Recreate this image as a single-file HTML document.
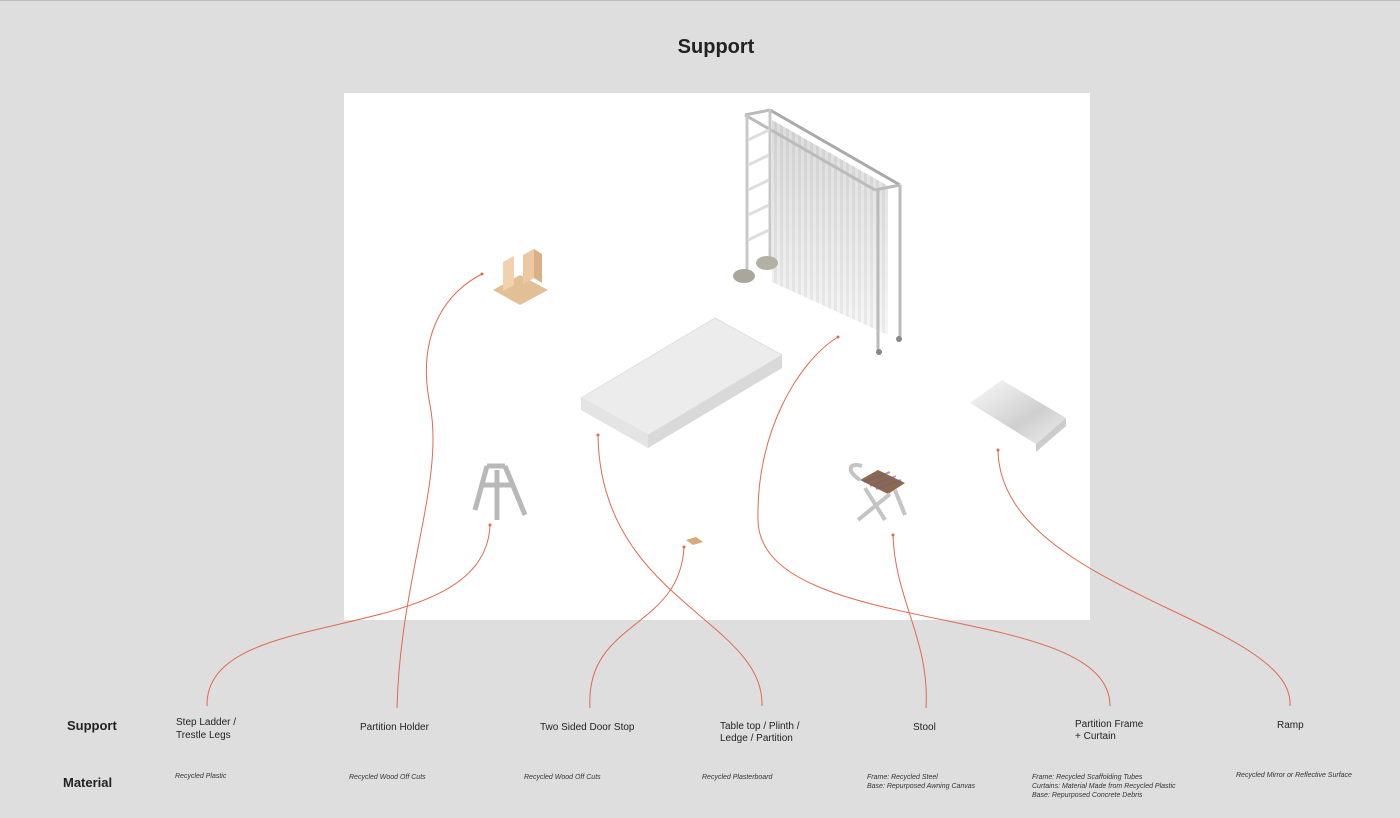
<!DOCTYPE html>
<html><head><meta charset="utf-8"><style>
html,body{margin:0;padding:0;background:#dedede;width:1400px;height:818px;overflow:hidden;font-family:"Liberation Sans",sans-serif;color:#222}
.t{position:absolute;font-size:10px;line-height:13px}
.m{position:absolute;font-size:7px;font-style:italic;line-height:10.5px;color:#333}
.h{position:absolute;font-weight:bold;font-size:13px}
</style></head><body>
<div style="position:absolute;left:0;top:0;width:1400px;height:1px;background:#bbb"></div>
<div style="position:absolute;left:0;top:36px;width:1432px;text-align:center;font-weight:bold;font-size:20px">Support</div>
<div style="position:absolute;left:344px;top:93px;width:746px;height:527px;background:#fff"></div>
<svg width="1400" height="818" style="position:absolute;left:0;top:0">
<defs>
<linearGradient id="cg" x1="0" y1="0" x2="0" y2="1"><stop offset="0" stop-color="#c8c8c8"/><stop offset="1" stop-color="#ffffff"/></linearGradient>
<pattern id="st" width="6" height="10" patternUnits="userSpaceOnUse"><rect width="3" height="10" fill="#d6d6d6"/><rect x="3" width="3" height="10" fill="#eeeeee"/></pattern>
<linearGradient id="rg" x1="0" y1="0" x2="1" y2="1"><stop offset="0" stop-color="#fafafa"/><stop offset="0.6" stop-color="#cfcfcf"/><stop offset="1" stop-color="#eee"/></linearGradient>
</defs>
<!-- curtain -->
<polygon points="772,120 888,186 888,335 772,282" fill="url(#st)"/>
<polygon points="772,120 888,186 888,335 772,282" fill="url(#cg)" opacity="0.5"/>
<line x1="745" y1="115" x2="875" y2="190" stroke="#bbb" stroke-width="3"/>
<line x1="770" y1="110" x2="900" y2="185" stroke="#aaa" stroke-width="3"/>
<line x1="745" y1="115" x2="770" y2="110" stroke="#bbb" stroke-width="3"/>
<line x1="875" y1="190" x2="900" y2="185" stroke="#bbb" stroke-width="3"/>
<line x1="747" y1="115" x2="747" y2="275" stroke="#c8c8c8" stroke-width="3"/>
<line x1="770" y1="110" x2="770" y2="262" stroke="#c8c8c8" stroke-width="3"/>
<line x1="878" y1="190" x2="878" y2="350" stroke="#bbb" stroke-width="3"/>
<line x1="900" y1="185" x2="900" y2="337" stroke="#bbb" stroke-width="3"/>
<g stroke="#ddd" stroke-width="3"><line x1="748" y1="140" x2="769" y2="130"/><line x1="748" y1="165" x2="769" y2="155"/><line x1="748" y1="190" x2="769" y2="180"/><line x1="748" y1="215" x2="769" y2="205"/><line x1="748" y1="240" x2="769" y2="230"/></g>
<ellipse cx="744" cy="276" rx="11" ry="7" fill="#aaa69a"/><ellipse cx="767" cy="263" rx="11" ry="7" fill="#b3b0a5"/>
<circle cx="879" cy="352" r="3" fill="#888"/><circle cx="899" cy="339" r="3" fill="#888"/>
<!-- table slab -->
<polygon points="581,398 715,318 782,355 648,435" fill="#ececec" stroke="#e0e0e0"/>
<polygon points="581,398 648,435 648,448 581,410" fill="#e4e4e4"/>
<polygon points="648,435 782,355 782,368 648,448" fill="#d9d9d9"/>
<!-- ramp -->
<polygon points="970,403 1002,380 1066,418 1036,444" fill="url(#rg)"/>
<polygon points="1036,444 1066,418 1066,426 1036,452" fill="#ccc"/>
<!-- partition holder -->
<polygon points="493,290 520,275 548,290 520,305" fill="#e3bf95"/>
<polygon points="503,262 514,256 514,285 503,291" fill="#f0d2ae"/>
<polygon points="523,255 534,249 534,278 523,284" fill="#ecc9a2"/>
<polygon points="534,249 542,254 542,283 534,278" fill="#d9b186"/>
<!-- ladder -->
<g stroke="#b8b8b8" stroke-width="5" fill="none"><line x1="475" y1="510" x2="487" y2="466"/><line x1="505" y1="466" x2="525" y2="515"/><line x1="487" y1="466" x2="505" y2="466"/><line x1="482" y1="485" x2="512" y2="485"/><line x1="497" y1="470" x2="497" y2="520"/></g>
<!-- door stop -->
<polygon points="686,540 696,537 703,542 693,545" fill="#d9a97a"/>
<!-- stool -->
<polygon points="860,480 878,470 905,483 888,494" fill="#8a6a4a"/>
<g stroke="#7a5c8a" stroke-width="2" opacity="0.6"><line x1="864" y1="482" x2="890" y2="472"/><line x1="870" y1="486" x2="896" y2="476"/><line x1="876" y1="489" x2="901" y2="480"/></g>
<g stroke="#c4c4c4" stroke-width="4" fill="none"><path d="M860,480 C845,470 850,462 862,466"/><line x1="865" y1="488" x2="885" y2="520"/><line x1="890" y1="494" x2="858" y2="520"/><line x1="895" y1="490" x2="905" y2="515"/></g>
<!-- connectors -->
<g stroke="#e06a4e" stroke-width="1" fill="none">
<path d="M207,706 C205,600 485,650 490,525"/>
<path d="M397,708 C400,580 445,480 430,405 C415,330 450,290 482,274"/>
<path d="M590,708 C585,620 680,630 684,547"/>
<path d="M762,706 C765,620 600,600 598,435"/>
<path d="M926,708 C930,640 895,600 893,535"/>
<path d="M1110,706 C1110,600 760,640 758,520 C756,430 800,360 838,337"/>
<path d="M1290,706 C1295,620 1000,590 998,450"/>
</g>
<g fill="#e06a4e"><circle cx="490" cy="525" r="1.5"/><circle cx="482" cy="274" r="1.5"/><circle cx="684" cy="547" r="1.5"/><circle cx="598" cy="435" r="1.5"/><circle cx="893" cy="535" r="1.5"/><circle cx="838" cy="337" r="1.5"/><circle cx="998" cy="450" r="1.5"/></g>
</svg>
<div class="h" style="left:67px;top:718px">Support</div>
<div class="h" style="left:63px;top:775px">Material</div>
<div class="t" style="left:176px;top:716px">Step Ladder /<br>Trestle Legs</div>
<div class="t" style="left:360px;top:721px">Partition Holder</div>
<div class="t" style="left:540px;top:721px">Two Sided Door Stop</div>
<div class="t" style="left:720px;top:721px;line-height:12px">Table top / Plinth /<br>Ledge / Partition</div>
<div class="t" style="left:913px;top:721px">Stool</div>
<div class="t" style="left:1075px;top:719px;line-height:12px">Partition Frame<br>+ Curtain</div>
<div class="t" style="left:1277px;top:719px">Ramp</div>
<div class="m" style="left:175px;top:772px">Recycled Plastic</div>
<div class="m" style="left:349px;top:773px">Recycled Wood Off Cuts</div>
<div class="m" style="left:524px;top:773px">Recycled Wood Off Cuts</div>
<div class="m" style="left:702px;top:773px">Recycled Plasterboard</div>
<div class="m" style="left:867px;top:773px;line-height:9px">Frame: Recycled Steel<br>Base: Repurposed Awning Canvas</div>
<div class="m" style="left:1032px;top:773px;line-height:9px">Frame: Recycled Scaffolding Tubes<br>Curtains: Material Made from Recycled Plastic<br>Base: Repurposed Concrete Debris</div>
<div class="m" style="left:1236px;top:771px">Recycled Mirror or Reflective Surface</div>
</body></html>
